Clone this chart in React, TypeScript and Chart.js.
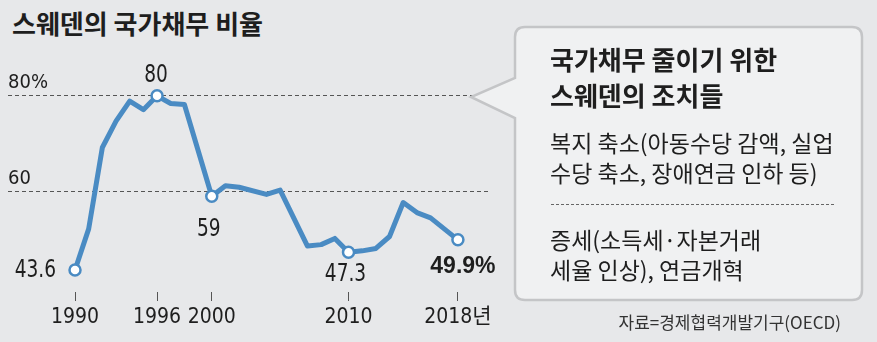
import React, { useEffect, useRef } from 'react';
import { Chart, registerables } from 'chart.js';

Chart.register(...registerables);

// ---- data ----
const years = [1990, 1991, 1992, 1993, 1994, 1995, 1996, 1997, 1998, 2000, 2001, 2002, 2004, 2005, 2007, 2008, 2009, 2010, 2011, 2012, 2013, 2014, 2015, 2016, 2017, 2018];
const debtRatio = [43.6, 52.2, 69.2, 74.7, 78.9, 77.1, 80, 78.4, 78.2, 59, 61.2, 60.9, 59.4, 60.3, 48.6, 48.9, 50.2, 47.3, 47.6, 48.1, 50.6, 57.7, 55.6, 54.5, 52.2, 49.9];
const xTickYears = [1990, 1996, 2000, 2010, 2018];
const yTickValues = [60, 80];
const labelYears = [1990, 1996, 2000, 2010, 2018];
const labelTexts = ['43.6', '80', '59', '47.3', '49.9%'];

const title = '스웨덴의 국가채무 비율';
const calloutHeading = ['국가채무 줄이기 위한', '스웨덴의 조치들'];
const calloutBody1 = ['복지 축소(아동수당 감액, 실업', '수당 축소, 장애연금 인하 등)'];
const calloutBody2 = ['증세(소득세·자본거래', '세율 인상), 연금개혁'];
const sourceText = '자료=경제협력개발기구(OECD)';

// ---- styles ----
const BG = '#e7e8ea';
const LINE = '#4a8bc3';
const NUM_FONT = "'DejaVu Sans Condensed', 'Liberation Sans Narrow', 'Noto Sans CJK KR', sans-serif";
const KR_FONT = "'Noto Sans CJK KR', 'Noto Sans', sans-serif";
const labelStyles = [
  { dx: -19, dy: 7, align: 'right', bold: false },
  { dx: -1, dy: -14, align: 'center', bold: false },
  { dx: -3, dy: 40, align: 'center', bold: false },
  { dx: -3, dy: 29, align: 'center', bold: false },
  { dx: 5, dy: 33, align: 'center', bold: true },
];
const LABEL_SQUEEZE = 0.86;

const dataLabelPlugin = {
  id: 'dataLabels',
  afterDatasetsDraw(chart: any) {
    const meta = chart.getDatasetMeta(0);
    const ctx = chart.ctx;
    labelYears.forEach((yr, k) => {
      const i = years.indexOf(yr);
      const pt = meta.data[i];
      if (!pt) return;
      const st = labelStyles[k];
      ctx.save();
      ctx.font = st.bold
        ? `bold 23px 'Liberation Sans', Arial, sans-serif`
        : `24px ${NUM_FONT}`;
      ctx.fillStyle = '#1e1e1e';
      ctx.textAlign = st.align;
      ctx.textBaseline = 'alphabetic';
      const sx = st.bold ? 1 : LABEL_SQUEEZE;
      ctx.translate(pt.x + st.dx, pt.y + st.dy);
      ctx.scale(sx, 1);
      ctx.fillText(labelTexts[k], 0, 0);
      ctx.restore();
    });
  },
};

function ChartCanvas() {
  const ref = useRef<HTMLCanvasElement | null>(null);
  useEffect(() => {
    if (!ref.current) return;
    const chart = new Chart(ref.current, {
      type: 'line',
      data: {
        datasets: [
          {
            data: years.map((y, i) => ({ x: y, y: debtRatio[i] })),
            borderColor: LINE,
            borderWidth: 5,
            borderJoinStyle: 'round',
            borderCapStyle: 'round',
            tension: 0,
            pointRadius: (c: any) => (labelYears.includes(years[c.dataIndex]) ? 5.5 : 0),
            pointHoverRadius: 0,
            pointBackgroundColor: '#ffffff',
            pointBorderColor: LINE,
            pointBorderWidth: 2.5,
          },
        ],
      },
      options: {
        responsive: false,
        animation: false,
        events: [],
        layout: { padding: { left: 8, right: 389, top: 48, bottom: 8 } },
        plugins: { legend: { display: false }, tooltip: { enabled: false } },
        scales: {
          x: {
            type: 'linear',
            min: 1985.1,
            max: 2020.2,
            afterBuildTicks: (s: any) => {
              s.ticks = xTickYears.map((v) => ({ value: v }));
            },
            border: { display: false },
            grid: { drawOnChartArea: false, drawTicks: true, tickLength: 9, color: '#555', lineWidth: 1 },
            ticks: {
              padding: 6,
              color: '#1e1e1e',
              maxRotation: 0,
              autoSkip: false,
              font: { family: NUM_FONT, size: 21, lineHeight: 1 },
              callback: (v: any) => (v === 2018 ? '2018년' : String(v)),
            },
          },
          y: {
            type: 'linear',
            min: 39,
            max: 90,
            afterBuildTicks: (s: any) => {
              s.ticks = yTickValues.map((v) => ({ value: v }));
            },
            border: { display: false, dash: [4, 3] },
            grid: { drawTicks: false, color: '#555', lineWidth: 1 },
            ticks: {
              mirror: true,
              padding: 0,
              labelOffset: -13,
              color: '#1e1e1e',
              font: { family: NUM_FONT, size: 20 },
              callback: (v: any) => (v === 80 ? '80%' : String(v)),
            },
          },
        },
      },
      plugins: [dataLabelPlugin],
    } as any);
    return () => chart.destroy();
  }, []);
  return (
    <canvas
      ref={ref}
      width={877}
      height={342}
      style={{ position: 'absolute', left: 0, top: 0, width: 877, height: 342 }}
    />
  );
}

export default function App() {
  useEffect(() => {
    document.body.style.margin = '0';
  }, []);
  const textBase: React.CSSProperties = { position: 'absolute', fontFamily: KR_FONT, color: '#1e1e1e', whiteSpace: 'nowrap' };
  return (
    <div style={{ position: 'fixed', left: 0, top: 0, width: 877, height: 342, background: BG, overflow: 'hidden' }}>
      <div style={{ ...textBase, left: 12, top: 8, fontSize: 26, fontWeight: 700, lineHeight: '30px' }}>{title}</div>
      <ChartCanvas />
      <svg width={877} height={342} style={{ position: 'absolute', left: 0, top: 0 }}>
        <path
          d="M 525 27 H 852 Q 862 27 862 37 V 290 Q 862 300 852 300 H 525 Q 515 300 515 290 V 118 L 471 97 L 515 78 V 37 Q 515 27 525 27 Z"
          fill="#f0f1f2"
          stroke="#c4c5c7"
          strokeWidth={2.5}
        />
        <line x1={551} y1={204.5} x2={834} y2={204.5} stroke="#666" strokeWidth={1} strokeDasharray="3 2" />
      </svg>
      <div style={{ ...textBase, left: 550, top: 41, fontSize: 26, fontWeight: 700, lineHeight: '36px' }}>
        {calloutHeading.map((t, i) => (<div key={i}>{t}</div>))}
      </div>
      <div style={{ ...textBase, left: 550, top: 127, fontSize: 23, fontWeight: 400, lineHeight: '30px' }}>
        {calloutBody1.map((t, i) => (<div key={i}>{t}</div>))}
      </div>
      <div style={{ ...textBase, left: 550, top: 224, fontSize: 23, fontWeight: 400, lineHeight: '30px' }}>
        {calloutBody2.map((t, i) => (<div key={i}>{t}</div>))}
      </div>
      <div style={{ ...textBase, right: 877 - 841, top: 312, fontSize: 17, lineHeight: '20px', color: '#333' }}>{sourceText}</div>
    </div>
  );
}
